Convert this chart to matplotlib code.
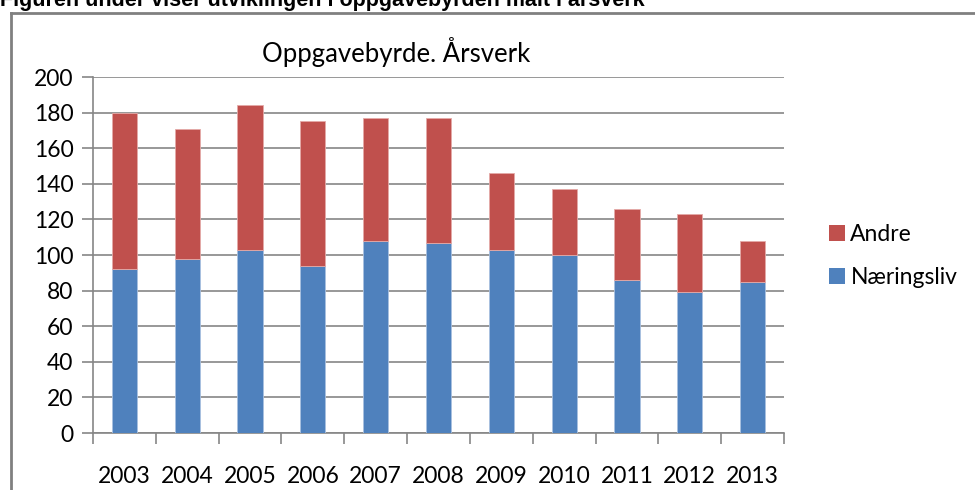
import matplotlib
matplotlib.use('Agg')
import matplotlib.pyplot as plt
from matplotlib.lines import Line2D
from matplotlib.patches import Patch

years = ['2003', '2004', '2005', '2006', '2007', '2008', '2009', '2010', '2011', '2012', '2013']
naeringsliv = [92, 97.5, 103, 94, 108, 107, 103, 100, 86, 79, 85]
andre = [88, 73.5, 81, 81, 69, 70, 43, 37, 40, 44, 23]

blue = '#4F81BD'
red = '#C0504D'
grid = '#868686'

fig = plt.figure(figsize=(9.75, 4.9), dpi=100)
ax = fig.add_axes([93/975, 57/490, 691/975, 356/490])

x = range(len(years))
ax.bar(x, naeringsliv, width=0.4, color=blue, edgecolor='#a9c1e0', linewidth=0.6, zorder=3)
ax.bar(x, andre, width=0.4, bottom=naeringsliv, color=red, edgecolor='#e4aaa8', linewidth=0.6, zorder=3)

ax.set_xlim(-0.5, len(years) - 0.5)
ax.set_ylim(0, 200)
ax.set_yticks(range(0, 201, 20))
ax.yaxis.grid(True, color=grid, linewidth=1.2, zorder=0)
ax.set_axisbelow(True)

# ticks sit between the categories
ax.set_xticks([i - 0.5 for i in range(len(years) + 1)], minor=False)
ax.set_xticklabels([])
ax.set_xticks(list(x), minor=True)
ax.set_xticklabels(years, minor=True)
ax.tick_params(axis='x', which='major', direction='out', length=8, color=grid, width=1.2)
ax.tick_params(axis='x', which='minor', length=0, pad=24, labelsize=16.5)
ax.tick_params(axis='y', direction='out', length=8, color=grid, width=1.2, labelsize=16.5, pad=6)
for lab in ax.get_xticklabels(minor=True) + ax.get_yticklabels():
    lab.set_fontfamily('Lato')

for s in ['top', 'right']:
    ax.spines[s].set_visible(False)
for s in ['left', 'bottom']:
    ax.spines[s].set_color(grid)
    ax.spines[s].set_linewidth(1.2)

fig.text(396/975, 1 - 52/490, 'Oppgavebyrde. Årsverk', ha='center', va='center',
         fontsize=18.5, family='Lato')

handles = [Patch(facecolor=red, edgecolor='none'), Patch(facecolor=blue, edgecolor='none')]
fig.legend(handles, ['Andre', 'Næringsliv'], loc='center left',
           bbox_to_anchor=(808/975, 1 - 256/490), frameon=False,
           prop={'family': 'Lato', 'size': 16.5}, handlelength=0.7, handleheight=0.7,
           handletextpad=0.25, labelspacing=1.0)

# outer frame of the embedded chart
fig.add_artist(Line2D([11/975, 1], [1 - 13/490] * 2, color='#808080', linewidth=2,
                      transform=fig.transFigure))
fig.add_artist(Line2D([11/975] * 2, [0, 1 - 13/490], color='#808080', linewidth=2,
                      transform=fig.transFigure))

fig.text(0, 1 - 6/490, 'Figuren under viser utviklingen i oppgavebyrden målt i årsverk',
         ha='left', va='baseline', fontsize=15.5, fontweight='bold', family='Liberation Sans')

fig.savefig('out.png', dpi=100)
